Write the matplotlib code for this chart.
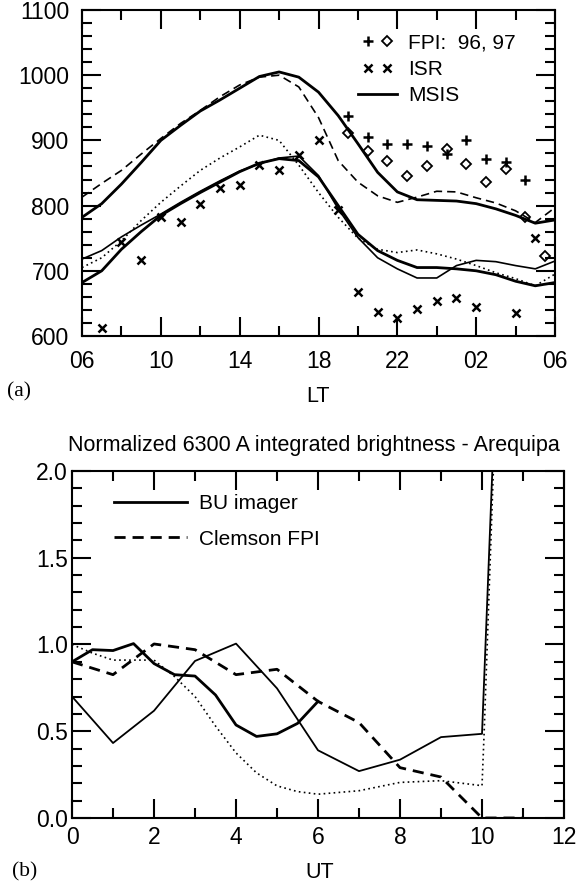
import matplotlib
matplotlib.use("Agg")
import matplotlib.pyplot as plt
from matplotlib.ticker import MultipleLocator, FixedLocator, FixedFormatter
from matplotlib.legend_handler import HandlerTuple
from matplotlib.lines import Line2D

plt.rcParams['font.family'] = ['Liberation Sans', 'DejaVu Sans']

# ---- panel (a): temperatures vs local time ----
lt_hours = [6, 7, 8, 9, 10, 11, 12, 13, 14, 15, 16, 17, 18,
            19, 20, 21, 22, 23, 24, 25, 26, 27, 28, 29, 30]
lt_tick_pos = [6, 10, 14, 18, 22, 26, 30]
lt_tick_labels = ['06', '10', '14', '18', '22', '02', '06']

msis_upper_solid = [782, 803, 833, 866, 900, 923, 945, 962, 980, 998, 1005, 997, 974,
                    938, 895, 851, 821, 809, 808, 807, 803, 795, 785, 773, 778]
msis_upper_dash = [813, 834, 854, 879, 903, 926, 946, 967, 985, 997, 1000, 982, 935,
                   869, 836, 815, 805, 813, 822, 821, 812, 804, 792, 774, 797]
msis_dotted = [705, 720, 746, 777, 805, 830, 854, 873, 890, 908, 900, 862, 820,
               782, 750, 733, 728, 732, 726, 718, 708, 697, 688, 677, 695]
msis_lower_thin = [718, 731, 752, 770, 787, 805, 822, 838, 853, 864, 873, 876, 846,
                   795, 751, 720, 703, 689, 689, 708, 716, 714, 708, 703, 715]
msis_lower_thick = [682, 700, 733, 760, 785, 803, 820, 836, 852, 865, 872, 869, 844,
                    800, 756, 731, 716, 705, 705, 703, 700, 694, 684, 677, 682]

isr_lt = [7, 8, 9, 10, 11, 12, 13, 14, 15, 16, 17, 18, 19, 20, 21, 22, 23, 24, 25, 26, 28, 29]
isr_temp = [613, 744, 716, 782, 775, 803, 827, 831, 862, 854, 877, 900, 794, 668,
            637, 627, 641, 654, 659, 644, 635, 750]

fpi96_lt = [19.5, 20.5, 21.5, 22.5, 23.5, 24.5, 25.5, 26.5, 27.5, 28.5]
fpi96_temp = [938, 905, 894, 894, 891, 879, 901, 872, 867, 840]
fpi97_lt = [19.5, 20.5, 21.5, 22.5, 23.5, 24.5, 25.5, 26.5, 27.5, 28.5, 29.5]
fpi97_temp = [911, 884, 869, 845, 860, 887, 864, 836, 856, 783, 723]

# ---- panel (b): normalized brightness vs UT ----
thick_ut = [0, 0.5, 1, 1.5, 2, 2.5, 3, 3.5, 4, 4.5, 5, 5.5, 6]
thick_val = [0.90, 0.97, 0.965, 1.005, 0.89, 0.826, 0.818, 0.709, 0.536, 0.47, 0.485, 0.545, 0.672]
bu_ut = [0, 1, 2, 3, 4, 5, 6, 7, 8, 9, 10, 10.5]
bu_val = [0.70, 0.432, 0.618, 0.905, 1.005, 0.747, 0.39, 0.27, 0.336, 0.466, 0.485, 3.5]
fpi_ut = [0, 1, 2, 3, 4, 5, 6, 7, 8, 9, 10, 11]
fpi_val = [0.90, 0.826, 1.003, 0.97, 0.826, 0.857, 0.672, 0.55, 0.29, 0.236, 0.0, 0.0]
dot_ut = [0, 0.5, 1, 1.5, 2, 2.5, 3, 3.5, 4, 4.5, 5, 5.5, 6, 7, 8, 9, 10, 10.05, 10.5]
dot_val = [1.0, 0.95, 0.91, 0.91, 0.91, 0.815, 0.70, 0.53, 0.375, 0.26, 0.185, 0.152,
           0.137, 0.157, 0.205, 0.215, 0.186, 0.48, 3.5]

fig = plt.figure(figsize=(5.78, 8.84), dpi=100)

def style_axes(ax, xpad, ypad):
    for s in ax.spines.values():
        s.set_linewidth(1.5)
    ax.tick_params(which='both', direction='in', top=True, right=True, width=1.5,
                   labelsize=16.5)
    ax.tick_params(which='major', length=14)
    ax.tick_params(which='minor', length=7)
    ax.tick_params(axis='x', pad=xpad)
    ax.tick_params(axis='y', pad=ypad)

# panel (a)
ax1 = fig.add_axes([0.1419, 0.6199, 0.8183, 0.3688])
ax1.plot(lt_hours, msis_upper_solid, 'k-', lw=2.0)
ax1.plot(lt_hours, msis_upper_dash, 'k', ls=(0, (5, 3)), lw=1.2)
ax1.plot(lt_hours, msis_dotted, 'k', ls=(0, (1, 2)), lw=1.2)
ax1.plot(lt_hours, msis_lower_thin, 'k-', lw=1.2)
ax1.plot(lt_hours, msis_lower_thick, 'k-', lw=2.0)
isr_pts, = ax1.plot(isr_lt, isr_temp, 'kx', ms=6, mew=1.8)
p96, = ax1.plot(fpi96_lt, fpi96_temp, 'k+', ms=6.5, mew=1.8)
p97, = ax1.plot(fpi97_lt, fpi97_temp, 'kD', ms=5.5, mfc='none', mew=1.3)
msis_h = Line2D([], [], color='k', lw=2.0)

ax1.set_xlim(6, 30)
ax1.set_ylim(600, 1100)
ax1.xaxis.set_major_locator(FixedLocator(lt_tick_pos))
ax1.xaxis.set_major_formatter(FixedFormatter(lt_tick_labels))
ax1.xaxis.set_minor_locator(MultipleLocator(2))
ax1.yaxis.set_major_locator(MultipleLocator(100))
ax1.yaxis.set_minor_locator(MultipleLocator(20))
style_axes(ax1, 10, 9)

ax1.legend([(p96, p97), (isr_pts, isr_pts), msis_h],
           ['FPI:  96, 97', 'ISR', 'MSIS'],
           handler_map={tuple: HandlerTuple(ndivide=None)},
           loc='upper left', bbox_to_anchor=(0.583, 0.927), frameon=False,
           fontsize=15, handlelength=1.9, handletextpad=0.5, labelspacing=0.34,
           borderaxespad=0, borderpad=0)

fig.text(318 / 578, 1 - 397 / 884, 'LT', fontsize=15.5, ha='center', va='center')
fig.text(19 / 578, 1 - 392 / 884, '(a)', fontsize=15.5, ha='center', va='center',
         family='Liberation Serif')

# panel (b)
ax2 = fig.add_axes([0.1246, 0.0747, 0.8512, 0.3925])
ax2.plot(thick_ut, thick_val, 'k-', lw=2.0)
bu_line, = ax2.plot(bu_ut, bu_val, 'k-', lw=1.3)
fpi_line, = ax2.plot(fpi_ut, fpi_val, 'k', ls=(0, (4, 2.5)), lw=2.0)
ax2.plot(dot_ut, dot_val, 'k', ls=(0, (1, 2)), lw=1.2)

ax2.set_xlim(0, 12)
ax2.set_ylim(0, 2)
ax2.xaxis.set_major_locator(MultipleLocator(2))
ax2.xaxis.set_minor_locator(MultipleLocator(1))
ax2.yaxis.set_major_locator(MultipleLocator(0.5))
ax2.yaxis.set_minor_locator(MultipleLocator(0.1))
ax2.yaxis.set_major_formatter(matplotlib.ticker.FormatStrFormatter('%.1f'))
style_axes(ax2, 6, 3)

leg_bu = Line2D([], [], color='k', lw=2.0)
ax2.legend([leg_bu, fpi_line], ['BU imager', 'Clemson FPI'],
           loc='upper left', bbox_to_anchor=(0.085, 0.933), frameon=False,
           fontsize=15, handlelength=3.5, handletextpad=0.6, labelspacing=0.79,
           borderaxespad=0, borderpad=0)

fig.text(314 / 578, 1 - 445 / 884, 'Normalized 6300 A integrated brightness - Arequipa',
         fontsize=15.5, ha='center', va='center')
fig.text(320 / 578, 1 - 872 / 884, 'UT', fontsize=15.5, ha='center', va='center')
fig.text(25 / 578, 1 - 872 / 884, '(b)', fontsize=15.5, ha='center', va='center',
         family='Liberation Serif')

fig.savefig('out.png', dpi=100)
